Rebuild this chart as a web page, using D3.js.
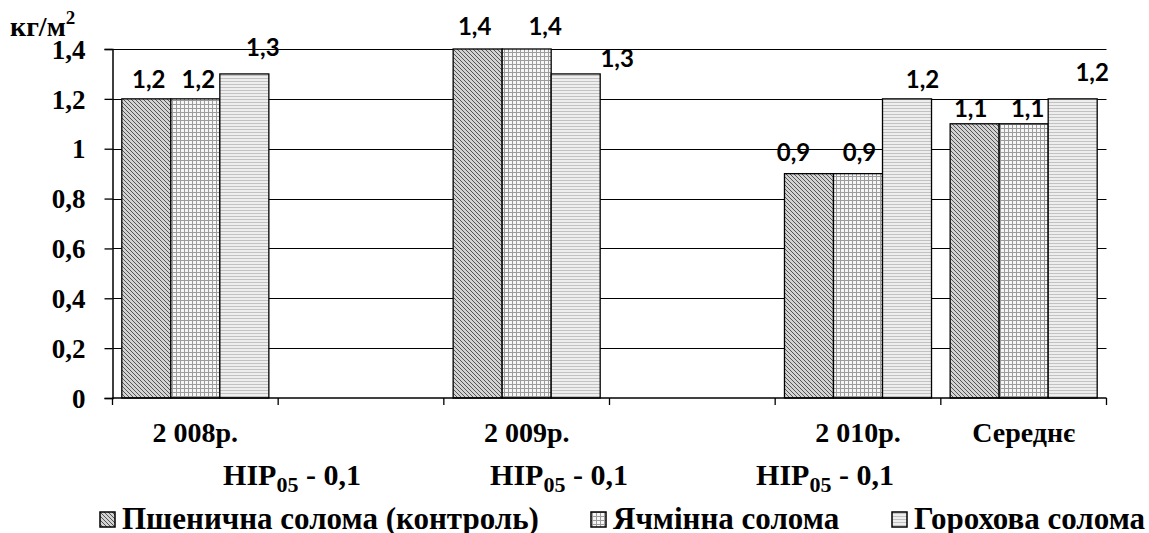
<!DOCTYPE html>
<html>
<head>
<meta charset="utf-8">
<script src="https://cdn.jsdelivr.net/npm/d3@7"></script>
<style>
  html, body { margin: 0; padding: 0; background: #fff; }
  svg { display: block; }
  .serif { font-family: "Liberation Serif", "Tinos", "FreeSerif", "Times New Roman", serif; font-weight: bold; }
  .sans { font-family: "Lato", "Open Sans", sans-serif; font-weight: bold; }
</style>
</head>
<body>
<svg id="chart" width="1149" height="533"></svg>
<script>
// Category slots along the x axis (blank slots keep the gaps between years)
const categories = ["2 008р.", "", "2 009р.", "", "2 010р.", "Середнє"];
const seriesNames = ["Пшенична солома (контроль)", "Ячмінна солома", "Горохова солома"];
const wheat  = [1.2, null, 1.4, null, 0.9, 1.1];
const barley = [1.2, null, 1.4, null, 0.9, 1.1];
const pea    = [1.3, null, 1.3, null, 1.2, 1.2];
const yTicks = [0, 0.2, 0.4, 0.6, 0.8, 1, 1.2, 1.4];
const unitLabel = ["кг/м", "2"];
const hipNote = ["НІР", "05", " - 0,1"];

// Hand-placed nudges of the value labels, [dx, dy] from the bar top centre
const labelShift = [
  [[2.5, -19.5], null, [-3, -23], null, [-15.5, -21], [-4, -15]],
  [[3, -19.5], null, [18.5, -23], null, [1.5, -21], [4, -15]],
  [[18.5, -27], null, [41.5, -15.5], null, [15.5, -19.5], [19.5, -26.5]]
];
// Anchor x of the three НІР notes
const hipX = [292, 559, 825];

const series = [wheat, barley, pea];
const fills = ["url(#pWheat)", "url(#pBarley)", "url(#pPea)"];

const svg = d3.select("#chart");

// Fill patterns
const defs = svg.append("defs");
const pw = defs.append("pattern").attr("id", "pWheat")
  .attr("patternUnits", "userSpaceOnUse").attr("width", 4).attr("height", 4);
pw.append("rect").attr("width", 4).attr("height", 4).attr("fill", "#d2d2d2");
pw.append("path").attr("d", "M0,0 L4,4 M-1,3 L1,5 M3,-1 L5,1")
  .attr("stroke", "#555").attr("stroke-width", 1);

const pb = defs.append("pattern").attr("id", "pBarley")
  .attr("patternUnits", "userSpaceOnUse").attr("width", 4).attr("height", 4);
pb.append("rect").attr("width", 4).attr("height", 4).attr("fill", "#f6f6f6");
pb.append("path").attr("d", "M0,0.5 H4 M0.5,0 V4")
  .attr("stroke", "#9c9c9c").attr("stroke-width", 1);

const pp = defs.append("pattern").attr("id", "pPea")
  .attr("patternUnits", "userSpaceOnUse").attr("width", 3).attr("height", 3);
pp.append("rect").attr("width", 3).attr("height", 3).attr("fill", "#eeeeee");
pp.append("path").attr("d", "M0,0.5 H3")
  .attr("stroke", "#c2c2c2").attr("stroke-width", 1);

// Scales
const x = d3.scaleBand().domain(d3.range(categories.length))
  .range([112.5, 1106.5]).paddingInner(0).paddingOuter(0);
const xs = d3.scaleBand().domain(d3.range(series.length))
  .range([0, x.bandwidth()]).paddingInner(0).paddingOuter(0.19);
const y = d3.scaleLinear().domain([0, 1.4]).range([398, 49]);

const fmt = v => String(+v.toFixed(1)).replace(".", ",");

// Gridlines
svg.append("g").selectAll("line").data(yTicks.filter(d => d > 0)).join("line")
  .attr("x1", x.range()[0]).attr("x2", x.range()[1])
  .attr("y1", d => Math.round(y(d)) + 0.5).attr("y2", d => Math.round(y(d)) + 0.5)
  .attr("stroke", "#000").attr("stroke-width", 1);

// Bars
series.forEach((vals, si) => {
  svg.append("g").selectAll("rect")
    .data(vals.map((v, i) => ({ v, i })).filter(d => d.v != null))
    .join("rect")
    .attr("x", d => x(d.i) + xs(si))
    .attr("width", xs.bandwidth())
    .attr("y", d => y(d.v))
    .attr("height", d => y(0) - y(d.v))
    .attr("fill", fills[si])
    .attr("stroke", "#000").attr("stroke-width", 1.3);
});

// Y axis
const yAxis = d3.axisLeft(y).tickValues(yTicks).tickSize(8).tickFormat(fmt);
const gy = svg.append("g").attr("transform", `translate(${x.range()[0]},0)`).call(yAxis)
  .attr("font-family", null).attr("font-size", null);
gy.select(".domain").attr("stroke", "#000").attr("stroke-width", 1.5);
gy.selectAll(".tick line").attr("stroke", "#000").attr("stroke-width", 1.3);
gy.selectAll(".tick text")
  .attr("class", "serif")
  .attr("x", -27).attr("dy", "0.34em").attr("fill", "#000")
  .style("font-size", "27px");

// X axis: tick marks sit on slot boundaries
const gx = svg.append("g").attr("transform", `translate(0,${y(0)})`);
gx.append("line").attr("x1", x.range()[0]).attr("x2", x.range()[1])
  .attr("stroke", "#000").attr("stroke-width", 1.5);
gx.selectAll("line.tk").data(d3.range(categories.length + 1)).join("line").attr("class", "tk")
  .attr("x1", i => x.range()[0] + i * x.step()).attr("x2", i => x.range()[0] + i * x.step())
  .attr("y1", 0).attr("y2", 7).attr("stroke", "#000").attr("stroke-width", 1.3);
gx.selectAll("text").data(categories.map((c, i) => ({ c, i })).filter(d => d.c)).join("text")
  .attr("class", "serif")
  .attr("x", d => x(d.i) + x.bandwidth() / 2).attr("y", 44)
  .attr("text-anchor", "middle")
  .style("font-size", "28px")
  .text(d => d.c);

// Unit label
const ut = svg.append("text").attr("class", "serif").attr("x", 10).attr("y", 36)
  .style("font-size", "28px");
ut.append("tspan").text(unitLabel[0]);
ut.append("tspan").style("font-size", "19px").attr("dy", -12).text(unitLabel[1]);

// Value labels
series.forEach((vals, si) => {
  svg.append("g").selectAll("text")
    .data(vals.map((v, i) => ({ v, i })).filter(d => d.v != null))
    .join("text")
    .attr("class", "sans")
    .attr("x", d => x(d.i) + xs(si) + xs.bandwidth() / 2 + labelShift[si][d.i][0])
    .attr("y", d => y(d.v) + labelShift[si][d.i][1])
    .attr("dy", "0.36em")
    .attr("text-anchor", "middle").attr("fill", "#000")
    .style("font-size", "24px")
    .text(d => fmt(d.v));
});

// НІР notes
hipX.forEach(hx => {
  const t = svg.append("text").attr("class", "serif").attr("x", hx).attr("y", 485)
    .attr("text-anchor", "middle").style("font-size", "30px");
  t.append("tspan").text(hipNote[0]);
  t.append("tspan").style("font-size", "22px").attr("dy", 7).text(hipNote[1]);
  t.append("tspan").attr("dy", -7).text(hipNote[2]);
});

// Legend
const legendX = [100, 591, 892];
const lg = svg.append("g");
seriesNames.forEach((name, si) => {
  lg.append("rect").attr("x", legendX[si]).attr("y", 512).attr("width", 15).attr("height", 15)
    .attr("fill", fills[si]).attr("stroke", "#000").attr("stroke-width", 1.5);
  lg.append("text").attr("class", "serif").attr("x", legendX[si] + 22).attr("y", 529)
    .style("font-size", "31px")
    .text(name);
});
</script>
</body>
</html>
